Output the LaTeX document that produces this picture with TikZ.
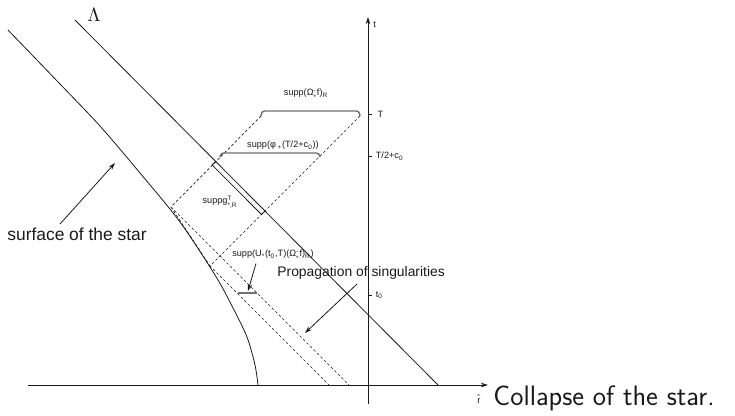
\documentclass[tikz,border=0pt]{standalone}
\usepackage{amsmath}
\usepackage{fontspec}
\usepackage{xcolor}
\usepackage{tikz}
\usetikzlibrary{arrows.meta,calc}
\newfontfamily\labelfont{Liberation Sans}
\definecolor{blackmain}{HTML}{1A1A1A}
\definecolor{graybar}{HTML}{707070}
\newcommand{\supsb}[2]{$^{\text{#1}}_{\text{#2}}$}
\tikzset{every node/.append style={font=\labelfont\fontsize{5.2}{6}\selectfont,inner sep=0pt,text=blackmain}}
\tikzset{suppline/.style={dash pattern=on 1.5pt off 1.3pt,line width=0.4pt},
  bar/.style={graybar,line width=0.8pt,rounded corners=1.5}}

\begin{document}
\begin{tikzpicture}[>={Stealth[length=4pt,width=2.6pt]},x=0.02cm,y=-0.02cm,line width=0.45pt,blackmain]
  \useasboundingbox (0,0) rectangle (735,416);
  % axes
  \coordinate (xL) at (28,385); \coordinate (xR) at (488,385);
  \coordinate (tBot) at (368,404); \coordinate (tTop) at (368,17);
  \draw[->] (xL) -- (xR);
  \draw[->] (tBot) -- (tTop);
  \node[right] (tlab) at (373,25) {t};
  \node (rlab) at (479,399) {\^{r}};
  \node[right,font=\sffamily\fontsize{16}{18}\selectfont] (caption) at (493,398) {Collapse of the star.};
  % ticks on the t axis
  \draw (368,114) -- (372,114) node[right=3] (tickT) {T};
  \draw (368,156) -- (372,156) node[right=2] (tickH) {T/2+c\textsubscript{0}};
  \draw (368,295) -- (372,295) node[right=2] (tickZ) {t\textsubscript{0}};
  % the line Lambda
  \coordinate (L0) at (75,20); \coordinate (L1) at (438,385);
  \draw (L0) -- (L1);
  \node[font=\rmfamily\fontsize{10.5}{12}\selectfont] (lam) at (94,15) {$\Lambda$};
  % surface of the star
  \draw plot[smooth] coordinates {(8,30) (60,84) (100,126) (140,173) (180,222)
      (215,275) (232,306) (247,337) (255,365) (258,385)};
  % supports
  \coordinate (A) at (261,116); \coordinate (B) at (360,116);
  \coordinate (C) at (171,207); \coordinate (D) at (210,266);
  \coordinate (Cb) at (349,385); \coordinate (Db) at (329,385);
  \draw[suppline] (A) -- (C) -- (Cb);
  \draw[suppline] (B) -- (D) -- (Db);
  \draw[suppline] (C) -- (D);
  \draw[bar] (A) -- (262,111) -- (359,111) -- (B);
  \draw[bar] (220,157) -- (221,153) -- (319,153) -- (320,157);
  \draw[bar] (238,293) -- (257,293);
  % thin strip along Lambda
  \draw (215.6,161.4) -- (212.1,164.9) -- (261.5,214.5) -- (265,211);
  % labels
  \node (lblOmega) at (306,94) {supp(Ω\supsb{-}{*}f)\textsubscript{R}};
  \node (lblPhi) at (283,145) {supp(φ\,\textsubscript{+}(T/2+c\textsubscript{0}))};
  \node (lblG) at (220,202) {suppg\supsb{T}{*,R}};
  \node (lblU) at (273,255) {supp(U\textsubscript{*}(t\textsubscript{0},T)(Ω\supsb{-}{*}f)\textsubscript{R})};
  \node[right,font=\labelfont\fontsize{7.9}{9}\selectfont] (lblProp) at (277,273) {Propagation of singularities};
  \node[anchor=base west,font=\labelfont\fontsize{9.9}{11}\selectfont] (lblSurf) at (7,240) {surface of the star};
  % arrows
  \coordinate (surfTip) at (115,163);
  \coordinate (uTip) at (248,291);
  \coordinate (propTip) at (305,333);
  \draw[->] ($(lblSurf.north)+(-17,-3)$) -- (surfTip);
  \draw[->] ($(lblU.south)+(-17,3)$) -- (uTip);
  \draw[->] ($(lblProp.south)+(-4,4)$) -- (propTip);
\end{tikzpicture}
\end{document}
